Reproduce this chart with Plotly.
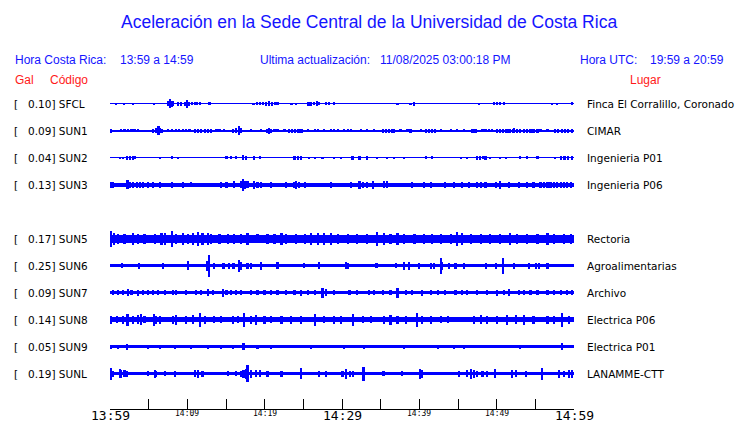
import plotly.graph_objects as go

# ---------------- data ----------------
CODES = ["SFCL", "SUN1", "SUN2", "SUN3", "SUN5", "SUN6", "SUN7", "SUN8", "SUN9", "SUNL"]
SLOTS = [0, 1, 2, 3, 5, 6, 7, 8, 9, 10]
GAL = ["0.10", "0.09", "0.04", "0.13", "0.17", "0.25", "0.09", "0.14", "0.05", "0.19"]
PLACES = ["Finca El Corralillo, Coronado", "CIMAR", "Ingenieria P01", "Ingenieria P06",
          "Rectoria", "Agroalimentarias", "Archivo", "Electrica P06", "Electrica P01", "LANAMME-CTT"]
TICK_MIN = [0, 10, 20, 30, 40, 50, 60]
TICK_LABELS = ["13:59", "14:09", "14:19", "14:29", "14:39", "14:49", "14:59"]
TICK_BIG = [True, False, False, True, False, False, True]

# background (noise floor) half-amplitude per trace, relative units
BASE = [0.5, 1.0, 0.5, 2.0, 4.0, 1.8, 1.5, 2.3, 1.5, 1.7]

# bursts: minutes after 13:59 and half-amplitude (relative units)
SFCL_T = [0.8, 1.8, 3.0, 5.7, 7.6, 7.8, 8.0, 8.2, 8.8, 9.2, 9.7, 10.0, 10.2, 10.6, 11.0, 11.3, 11.7, 12.9,
          18.6, 19.0, 19.4, 19.8, 20.2, 20.6, 21.0, 21.4, 21.7, 23.5, 24.1, 25.7, 26.0, 26.4, 26.8, 27.1,
          28.0, 28.4, 29.0, 37.2, 38.9, 39.3, 47.7, 49.7, 50.1, 50.5, 51.0, 57.2, 57.8, 59.8]
SFCL_A = [1, 1, 1, 1, 2.5, 4.7, 3, 2.5, 2, 2, 2, 4, 2, 1.5, 1.5, 1.5, 1.5, 1.5,
          1, 1.5, 1.5, 1.5, 2, 2.5, 2, 1.5, 1.5, 1, 1, 2, 2, 1.5, 2.5, 1.5,
          1.5, 1.5, 1.5, 1, 1, 2, 1, 1.5, 1.5, 1.5, 1.5, 1, 1, 1.5]

SUN1_T = [0.2, 1.5, 1.9, 2.4, 2.8, 3.2, 3.7, 5.6, 6.0, 6.3, 6.5, 6.7, 7.5, 8.0, 8.6, 9.0, 9.5, 9.9, 10.3,
          11.0, 11.4, 11.8, 12.3, 12.7, 13.1, 13.8, 14.2, 14.8, 15.9, 16.3, 16.7, 17.0, 18.3, 19.6,
          20.4, 20.6, 20.9, 21.3, 21.7, 22.6, 23.2, 23.6, 24.0, 24.4, 24.8, 25.6, 26.5, 26.9, 27.7, 28.6,
          29.0, 29.5, 30.3, 30.8, 31.2, 32.5, 33.3, 34.2, 35.3, 35.7, 36.1, 36.5, 36.8, 37.6, 38.5, 38.9,
          40.2, 40.9, 41.3, 41.7, 42.1, 42.8, 44.1, 44.9, 45.8, 46.9, 47.3, 48.2, 48.6, 49.0, 49.4,
          50.1, 50.5, 50.9, 51.3, 51.7, 52.1, 52.3, 52.7, 53.1, 53.6, 54.0, 54.4, 54.8, 55.3, 55.7, 56.6,
          57.6, 58.0, 58.5, 58.9, 59.3, 59.8]
SUN1_A = [2, 1.5, 1.5, 1.5, 1.5, 1.5, 1.5, 2, 2.5, 4.5, 2.5, 2, 1.5, 1.5, 1.5, 1.5, 1.5, 1.5, 1.5,
          2, 2, 2, 2, 2, 2, 1.5, 1.5, 1.5, 2, 2.5, 4.5, 2.5, 1.5, 1.5,
          2, 3, 2, 1.5, 1.5, 1.5, 2, 2, 2, 2, 2, 1.5, 1.5, 1.5, 1.5, 1.5,
          1.5, 1.5, 1.5, 1.5, 1.5, 1.5, 1.5, 1.5, 2, 2, 2, 2, 2, 1.5, 1.5, 2,
          1.5, 2, 2, 2, 2, 1.5, 1.5, 1.5, 1.5, 2, 2, 1.5, 1.5, 1.5, 1.5,
          2, 2, 2, 2, 2, 2, 2.5, 2, 2, 2, 2, 2, 2, 2, 1.5, 1.5,
          2, 2, 2, 2, 2, 2]

SUN2_T = [1.3, 1.7, 2.2, 2.6, 3.0, 3.2, 6.5, 8.0, 8.8, 15.1, 15.7, 16.3, 17.2, 17.6, 18.7, 19.4,
          23.9, 24.3, 24.7, 25.8, 26.5, 27.5, 29.0, 29.9, 31.4, 32.3, 33.3, 34.6, 35.9, 36.8, 38.1,
          40.9, 41.7, 45.4, 46.2, 47.5, 47.9, 48.3, 48.6, 49.2, 50.5, 51.2, 53.1, 54.0, 55.3, 57.6,
          58.3, 58.8, 59.3, 59.8]
SUN2_A = [1, 1, 2, 2, 2, 1.5, 1, 1.5, 1, 1.5, 1.5, 1.5, 2.5, 2, 2, 1.5,
          2, 2, 2, 1, 1, 1, 1, 1, 2, 2, 2, 1, 1, 1, 1,
          1.5, 1.5, 1, 1, 2, 2, 1.5, 2, 1, 1, 1, 1.5, 1.5, 1.5, 1,
          2, 2, 2, 2]

SUN3_T = [0.2, 0.4, 2.3, 2.6, 3.0, 3.5, 3.9, 4.3, 4.9, 5.6, 6.5, 8.0, 9.5, 10.5, 14.4, 15.1, 16.1, 17.0,
          17.2, 17.5, 17.8, 18.7, 19.1, 19.6, 20.9, 22.8, 23.9, 24.1, 24.5, 25.2, 28.6, 31.2, 32.3, 32.7,
          33.3, 34.0, 35.5, 35.9, 39.1, 40.6, 41.5, 43.4, 44.5, 45.6, 46.5, 47.5, 48.0, 48.6, 49.9, 50.5,
          51.6, 52.9, 54.0, 54.8, 55.7, 56.2, 56.6, 57.0, 57.4, 57.8, 58.3, 58.7, 59.1, 59.6]
SUN3_A = [3, 3, 4.5, 3, 3, 3, 3, 3, 3, 3, 3, 3, 3, 2.7, 3, 3, 3.5, 3.5,
          6, 4, 3.5, 4, 3, 3, 3, 3, 3, 4, 3, 3, 3, 3, 4, 3,
          3, 4, 3.5, 3.5, 3, 3, 3, 3, 3, 3, 3, 3, 3, 3, 3, 4,
          3, 3, 3, 3, 3, 3, 3, 3, 3, 3, 3, 3, 3, 3]

SUN5_T = [0.2, 0.6, 1.1, 1.9, 3.0, 3.7, 4.5, 5.8, 6.7, 7.1, 8.0, 8.6, 9.5, 10.1, 10.8, 11.4, 12.0, 12.7,
          13.1, 14.2, 15.3, 16.1, 17.0, 17.8, 19.1, 20.4, 21.3, 22.2, 22.8, 24.1, 25.2, 26.0, 26.9, 27.7,
          28.6, 29.5, 30.8, 32.0, 33.3, 34.6, 35.5, 36.3, 37.2, 38.1, 39.4, 40.6, 41.7, 42.8, 44.1, 44.9,
          45.6, 46.7, 48.0, 49.2, 50.5, 51.8, 52.7, 54.0, 55.3, 56.6, 57.4, 58.7, 59.6]
SUN5_A = [8, 6, 5, 5, 6, 5, 5, 5, 6, 6, 8, 5, 6, 5, 6, 7, 6, 6,
          5, 5, 5, 5, 5, 6, 4.5, 5, 5, 6, 5, 5, 5, 6, 6, 6,
          6, 5, 5, 5, 5, 7, 6, 5, 6, 5, 5, 5, 5, 5, 5, 7,
          6, 5, 5, 5, 5, 6, 5, 5, 5, 6, 5, 5, 5]

SUN6_T = [1.6, 3.8, 6.9, 10.1, 12.6, 12.8, 13.5, 14.7, 15.4, 16.0, 16.7, 16.9, 17.8, 18.3, 19.6, 21.7,
          25.1, 27.1, 30.5, 30.8, 34.5, 37.0, 38.0, 38.7, 40.0, 41.5, 41.9, 42.8, 43.0, 43.9, 44.7, 45.8,
          48.7, 49.9, 50.8, 50.9, 52.3, 54.2, 55.1, 55.5, 56.6]
SUN6_A = [2.7, 3, 3, 4.3, 5, 11, 3, 3, 3, 3, 6, 4, 3, 3, 4, 3.5,
          2.5, 3.5, 3.5, 3, 2.5, 2.5, 4, 4, 3, 3, 3, 8, 4, 3, 3, 3,
          3, 3, 5, 8, 3, 3, 3, 3, 3]

SUN7_T = [0.4, 1.1, 1.7, 2.4, 2.8, 3.7, 4.3, 4.9, 5.6, 6.2, 7.1, 8.2, 8.6, 9.9, 11.2, 11.8, 12.7, 13.3,
          14.6, 15.1, 15.7, 16.3, 17.0, 18.3, 19.1, 20.0, 20.9, 21.7, 22.8, 23.9, 24.7, 25.6, 26.5, 27.5,
          28.0, 29.0, 31.0, 32.0, 33.5, 34.2, 35.3, 36.3, 37.2, 38.3, 39.1, 40.4, 41.5, 42.4, 43.4, 44.7,
          45.6, 46.2, 47.5, 48.8, 50.1, 51.0, 51.6, 52.9, 53.6, 54.4, 55.3, 56.6, 57.4, 58.3, 59.1, 59.8]
SUN7_A = [2.5, 2.5, 2.5, 3.5, 2.5, 3, 2.5, 2.5, 2.5, 2.5, 2.5, 2.5, 2.5, 2.5, 2.5, 2.5, 3.5, 2.5,
          4, 2.5, 2.5, 2.5, 2.5, 2.5, 2.5, 2.5, 2.5, 2.5, 2.5, 2.5, 3, 2.5, 2.5, 5,
          3.5, 2.5, 2.5, 2.5, 2.5, 2.5, 2.5, 2.5, 5, 2.5, 2.5, 3, 2.5, 2.5, 2.5, 2.5,
          2.5, 2.5, 2.5, 2.5, 3, 2.5, 3.5, 2.5, 2.5, 2.5, 2.5, 2.5, 2.5, 2.5, 2.5, 2.5]

SUN8_T = [0.2, 0.9, 1.7, 2.3, 3.0, 3.7, 4.0, 4.5, 5.7, 6.0, 6.5, 8.2, 8.6, 9.9, 10.8, 11.7, 12.3, 13.5,
          14.4, 15.9, 16.6, 17.4, 18.3, 18.9, 20.0, 20.9, 22.2, 23.4, 24.7, 26.5, 27.7, 29.0, 29.9, 31.5,
          32.7, 33.8, 35.5, 36.3, 37.2, 38.3, 39.7, 40.4, 41.5, 42.8, 43.7, 47.1, 48.0, 48.8, 50.1, 51.4,
          52.5, 53.6, 54.8, 56.6, 57.4, 58.5, 59.4]
SUN8_A = [4, 3.5, 4, 6, 4, 4.5, 5.5, 3.5, 6, 4, 4, 4, 5, 4, 4.5, 7, 4, 3.5,
          3.5, 4, 3.5, 7, 4, 5, 4, 3.5, 4, 4, 4, 6, 3.5, 4, 4, 6,
          3.5, 3.5, 4, 5, 4, 4, 7, 4, 4, 3.5, 3.5, 4, 4.5, 4, 4, 5,
          4.5, 5, 4, 4, 4, 7, 4]

SUN9_T = [0.2, 1.1, 2.2, 4.9, 6.5, 8.4, 10.5, 12.7, 14.4, 15.9, 17.3, 19.1, 20.9, 26.0, 30.3, 32.9,
          38.1, 42.4, 44.5, 45.8, 53.1, 58.5]
SUN9_A = [2, 2, 3, 2, 2, 2, 2, 2, 2, 2, 3.5, 2, 2, 2, 2, 2,
          2, 2, 2, 2, 2, 3.5]

SUNL_T = [0.1, 0.4, 1.3, 1.5, 1.9, 2.2, 4.9, 5.8, 6.0, 7.1, 8.4, 11.0, 11.4, 12.0, 15.3, 16.3, 17.0,
          17.3, 17.6, 17.8, 18.3, 18.9, 19.4, 20.4, 22.2, 24.7, 27.1, 28.0, 30.1, 30.5, 31.1, 31.5, 32.8,
          35.4, 37.8, 40.1, 40.3, 45.2, 46.2, 46.7, 47.1, 47.5, 48.2, 48.8, 49.8, 52.0, 52.5, 53.8, 55.9,
          58.1, 58.7, 59.4, 59.8]
SUNL_A = [6, 3, 4.5, 4, 3.5, 3, 2.5, 4, 3, 2.5, 3, 3.5, 4, 3, 2.5, 2.5, 3,
          4, 5, 8.5, 4, 3.5, 3.5, 3, 3, 5.5, 3, 3, 3, 5, 3, 3, 7,
          2.5, 2.5, 5, 4, 3, 3.5, 5, 4, 3, 3, 3, 4.5, 4, 3.5, 3, 6,
          4, 3, 4, 4]

BURST_T = [SFCL_T, SUN1_T, SUN2_T, SUN3_T, SUN5_T, SUN6_T, SUN7_T, SUN8_T, SUN9_T, SUNL_T]
BURST_A = [SFCL_A, SUN1_A, SUN2_A, SUN3_A, SUN5_A, SUN6_A, SUN7_A, SUN8_A, SUN9_A, SUNL_A]

# ---------------- layout geometry ----------------
W, H = 740, 423
PX_L, PX_R = 110, 574          # plot area left/right (pixels)
PY_T, PY_B = 90, 409           # plot area top/bottom (pixels)
SLOT_PX = 27
FIRST_PX = 103.5
BLUE = "#0000ff"
TXT_BLUE = "#1414ff"
RED = "#ff1a1a"


def slot_y(slot):
    # y data units = pixels below the top, negative
    return -(FIRST_PX + SLOT_PX * slot - PY_T)


def px_x(px):
    return (px - PX_L) / (PX_R - PX_L)


def px_y(py):
    return (PY_B - py) / (PY_B - PY_T)


fig = go.Figure()

for code, slot, base, ts, amps in zip(CODES, SLOTS, BASE, BURST_T, BURST_A):
    y0 = slot_y(slot)
    # noise floor band
    fig.add_trace(go.Bar(x=[30], y=[2 * base], base=[y0 - base], width=[60],
                         marker=dict(color=BLUE, line=dict(width=0)),
                         showlegend=False, hoverinfo="skip"))
    # bursts
    fig.add_trace(go.Bar(x=ts, y=[2 * a for a in amps], base=[y0 - a for a in amps],
                         width=0.22, marker=dict(color=BLUE, line=dict(width=0)),
                         showlegend=False, hoverinfo="skip", name=code))

ann = []


def text(px, py, s, size=12, color=TXT_BLUE, family="Liberation Sans", xanchor="left"):
    if xanchor == "left":
        px -= 2   # compensate annotation padding
    ann.append(dict(x=px_x(px), y=px_y(py), xref="paper", yref="paper", text=s,
                    showarrow=False, xanchor=xanchor, yanchor="middle",
                    font=dict(size=size, color=color, family=family)))


text(369, 22, "Aceleración en la Sede Central de la Universidad de Costa Rica", size=17.5, xanchor="center")
text(15, 60, "Hora Costa Rica:")
text(120, 60, "13:59 a 14:59")
text(260, 60, "Ultima actualización:")
text(380, 60, "11/08/2025 03:00:18 PM")
text(580, 60, "Hora UTC:")
text(650, 60, "19:59 a 20:59")
text(15, 80, "Gal", color=RED)
text(50, 80, "Código", color=RED)
text(630, 80, "Lugar", color=RED)

for slot, g, code, place in zip(SLOTS, GAL, CODES, PLACES):
    py = FIRST_PX + SLOT_PX * slot
    text(14, py, "[", size=10.5, color="black", family="DejaVu Sans")
    text(28, py, f"{g}] {code}", size=10.5, color="black", family="DejaVu Sans")
    text(587, py, place, size=10.5, color="black", family="DejaVu Sans")

for m, lab, big in zip(TICK_MIN, TICK_LABELS, TICK_BIG):
    px = PX_L + (PX_R - PX_L) * m / 60
    if big:
        text(px, 415.5, lab, size=13, color="black", family="DejaVu Sans Mono", xanchor="center")
    else:
        text(px, 413, lab, size=8, color="black", family="DejaVu Sans Mono", xanchor="center")

fig.update_layout(
    width=W, height=H,
    margin=dict(l=PX_L, r=W - PX_R, t=PY_T, b=H - PY_B),
    paper_bgcolor="white", plot_bgcolor="white",
    barmode="overlay", bargap=0,
    annotations=ann,
    xaxis=dict(range=[0, 60], tick0=0, dtick=5, ticks="inside", ticklen=10,
               tickcolor="black", showticklabels=False, showgrid=False, zeroline=False,
               showline=True, linecolor="black", linewidth=1),
    yaxis=dict(range=[-(PY_B - PY_T), 0], visible=False, showgrid=False, zeroline=False),
)

fig.write_html("out.html", config={"displayModeBar": False},
               post_script="document.body.style.margin='0px';document.body.style.overflow='hidden';")
